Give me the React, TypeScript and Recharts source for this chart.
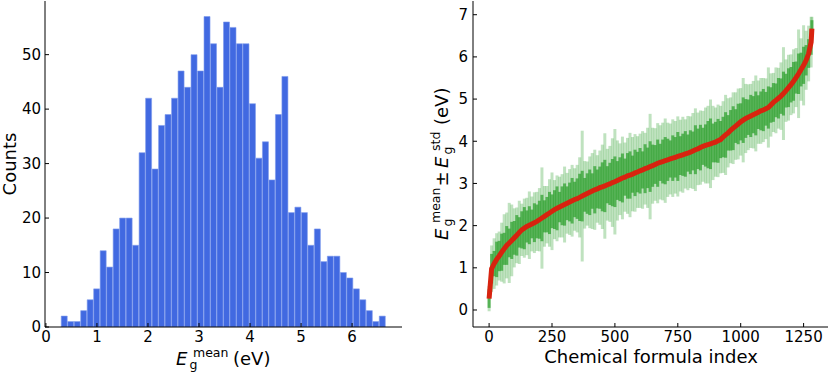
import React from 'react';
import { ComposedChart, Bar, Line, ErrorBar, XAxis, YAxis } from 'recharts';

// ---------- Left panel: histogram of E_g^mean ----------
const BIN_START = 0.3;
const BIN_WIDTH = 0.1272;
const COUNTS = [
  2, 1, 1, 3, 5, 7, 14, 11, 18, 20,
  20, 15, 32, 42, 29, 37, 39, 42, 47, 44,
  50, 47, 57, 52, 44, 56, 55, 52, 52, 41,
  31, 34, 27, 39, 46, 21, 22, 21, 15, 18,
  12, 13, 13, 10, 9, 7, 5, 3, 1, 2,
];
const LEFT_X_TICKS = [0, 1, 2, 3, 4, 5, 6];
const LEFT_Y_TICKS = [0, 10, 20, 30, 40, 50];

// ---------- Right panel: sorted mean +/- std ----------
const INDEX_STEP = 10;
const LAST_INDEX = 1283;
const MEAN = [
  0.27, 0.98, 1.10, 1.20, 1.28, 1.37, 1.45, 1.53, 1.59, 1.65,
  1.71, 1.77, 1.84, 1.90, 1.94, 1.98, 2.01, 2.04, 2.07, 2.10,
  2.14, 2.18, 2.22, 2.26, 2.30, 2.34, 2.38, 2.41, 2.44, 2.47,
  2.50, 2.53, 2.56, 2.59, 2.62, 2.64, 2.67, 2.70, 2.73, 2.76,
  2.79, 2.82, 2.85, 2.87, 2.90, 2.92, 2.94, 2.97, 2.99, 3.02,
  3.04, 3.07, 3.10, 3.13, 3.15, 3.18, 3.20, 3.22, 3.25, 3.27,
  3.30, 3.32, 3.35, 3.37, 3.40, 3.42, 3.45, 3.48, 3.50, 3.52,
  3.54, 3.56, 3.58, 3.60, 3.62, 3.64, 3.66, 3.68, 3.70, 3.72,
  3.74, 3.77, 3.80, 3.82, 3.85, 3.88, 3.90, 3.92, 3.94, 3.96,
  3.98, 4.01, 4.04, 4.10, 4.15, 4.20, 4.26, 4.31, 4.36, 4.41,
  4.46, 4.50, 4.54, 4.57, 4.60, 4.63, 4.66, 4.69, 4.72, 4.74,
  4.77, 4.80, 4.86, 4.92, 4.97, 5.02, 5.07, 5.13, 5.20, 5.27,
  5.34, 5.42, 5.51, 5.60, 5.70, 5.80, 5.92, 6.08, 6.35,
  6.67,
];
const CORE_STD = [
  0.22, 0.35, 0.30, 0.42, 0.36, 0.44, 0.38, 0.46, 0.34, 0.44,
  0.40, 0.48, 0.36, 0.44, 0.50, 0.38, 0.45, 0.34, 0.46, 0.40,
  0.45, 0.55, 0.38, 0.42, 0.50, 0.40, 0.46, 0.52, 0.36, 0.46,
  0.50, 0.40, 0.46, 0.54, 0.42, 0.48, 0.56, 0.60, 0.40, 0.48,
  0.54, 0.42, 0.56, 0.46, 0.50, 0.58, 0.62, 0.44, 0.50, 0.56,
  0.60, 0.46, 0.52, 0.58, 0.44, 0.54, 0.56, 0.44, 0.55, 0.48,
  0.54, 0.44, 0.58, 0.48, 0.60, 0.50, 0.46, 0.56, 0.44, 0.52,
  0.56, 0.50, 0.44, 0.54, 0.48, 0.58, 0.46, 0.50, 0.54, 0.44,
  0.52, 0.46, 0.58, 0.48, 0.54, 0.44, 0.50, 0.56, 0.60, 0.46,
  0.48, 0.52, 0.44, 0.48, 0.54, 0.42, 0.48, 0.52, 0.40, 0.48,
  0.44, 0.54, 0.46, 0.42, 0.50, 0.44, 0.52, 0.40, 0.46, 0.50,
  0.40, 0.50, 0.42, 0.46, 0.40, 0.48, 0.42, 0.52, 0.40, 0.46,
  0.42, 0.46, 0.38, 0.48, 0.40, 0.44, 0.36, 0.34, 0.30,
  0.20,
];
const OUTER_STD = [
  0.30, 0.55, 0.60, 0.62, 0.58, 0.70, 0.82, 0.78, 0.95, 0.85,
  0.70, 0.66, 0.75, 0.62, 0.70, 0.68, 0.80, 0.65, 0.72, 0.70,
  0.75, 1.20, 0.72, 0.68, 0.80, 0.92, 0.70, 0.78, 0.72, 0.75,
  0.90, 0.72, 0.78, 0.85, 0.74, 0.80, 0.95, 1.55, 0.80, 0.76,
  0.85, 0.90, 0.95, 0.80, 0.88, 1.00, 1.25, 0.85, 0.90, 1.05,
  1.25, 0.95, 0.85, 0.98, 0.82, 0.90, 1.00, 0.88, 0.92, 0.85,
  0.88, 0.92, 0.85, 0.95, 1.25, 0.90, 0.86, 0.95, 0.88, 0.92,
  1.00, 0.88, 0.84, 0.92, 0.86, 0.95, 0.85, 0.90, 0.82, 0.88,
  0.85, 0.90, 0.98, 0.86, 0.88, 0.84, 0.90, 0.92, 1.05, 0.88,
  0.82, 0.86, 0.80, 0.85, 0.95, 0.82, 0.78, 0.85, 0.80, 0.84,
  0.80, 1.00, 0.82, 0.78, 0.76, 0.80, 0.90, 0.75, 0.78, 0.76,
  0.72, 0.95, 0.75, 0.70, 0.78, 0.72, 0.80, 1.10, 0.74, 0.78,
  0.72, 0.76, 0.70, 1.05, 0.74, 0.95, 0.70, 0.66, 0.60,
  0.28,
];
const RIGHT_X_TICKS = [0, 250, 500, 750, 1000, 1250];
const RIGHT_Y_TICKS = [0, 1, 2, 3, 4, 5, 6, 7];

const histData = COUNTS.map((c, i) => ({ x: BIN_START + BIN_WIDTH * (i + 0.5), count: c }));
const idxData = MEAN.map((m, i) => ({
  idx: i === MEAN.length - 1 ? LAST_INDEX : i * INDEX_STEP,
  mean: m,
  core: CORE_STD[i],
  outer: OUTER_STD[i],
}));

const FONT = "'DejaVu Sans', sans-serif";
const tickStyle = { fontSize: 15, fill: '#000', fontFamily: FONT };
const axisLine = { stroke: '#000', strokeWidth: 1 };
const tickLine = { stroke: '#000', strokeWidth: 1 };

const LeftXLabel = () => {
  const cx = 223.5;
  return (
    <text fontFamily={FONT} fontSize={18} fill="#000">
      <tspan x={cx - 47.5} y={365} fontStyle="italic">E</tspan>
      <tspan x={cx - 34} y={368.5} fontSize={12.5}>g</tspan>
      <tspan x={cx - 30.5} y={357} fontSize={12.5}>mean</tspan>
      <tspan x={cx + 9.5} y={365}>(eV)</tspan>
    </text>
  );
};

const LeftYLabel = () => (
  <text
    x={16}
    y={164}
    transform="rotate(-90, 16, 164)"
    textAnchor="middle"
    fontFamily={FONT}
    fontSize={18}
    fill="#000"
  >
    Counts
  </text>
);

const RightXLabel = () => (
  <text x={236} y={363} textAnchor="middle" fontFamily={FONT} fontSize={18} fill="#000">
    Chemical formula index
  </text>
);

const RightYLabel = () => {
  const px = 33;
  const py = 164;
  return (
    <text transform={`rotate(-90, ${px}, ${py})`} fontFamily={FONT} fontSize={18} fill="#000">
      <tspan x={px - 76} y={py} fontStyle="italic">E</tspan>
      <tspan x={px - 62.5} y={py + 3.5} fontSize={12.5}>g</tspan>
      <tspan x={px - 59} y={py - 8} fontSize={12.5}>mean</tspan>
      <tspan x={px - 22.5} y={py}>±</tspan>
      <tspan x={px - 4} y={py} fontStyle="italic">E</tspan>
      <tspan x={px + 9.5} y={py + 3.5} fontSize={12.5}>g</tspan>
      <tspan x={px + 13} y={py - 8} fontSize={12.5}>std</tspan>
      <tspan x={px + 39} y={py}>(eV)</tspan>
    </text>
  );
};

export default function App() {
  return (
    <div style={{ position: 'absolute', left: 0, top: 0, width: 830, height: 373, background: '#fff' }}>
      <div style={{ position: 'absolute', left: 0, top: 0 }}>
        <ComposedChart
          width={415}
          height={373}
          data={histData}
          margin={{ top: 1, right: 13, bottom: 16, left: 0 }}
          barCategoryGap={0}
          barGap={0}
        >
          <XAxis
            xAxisId="b"
            type="number"
            dataKey="x"
            domain={[-0.018, 6.978]}
            allowDataOverflow
            ticks={LEFT_X_TICKS}
            height={30}
            tickSize={-4}
            tickMargin={8}
            tick={tickStyle}
            axisLine={axisLine}
            tickLine={tickLine}
            label={{ content: LeftXLabel }}
          />
          <XAxis
            xAxisId="t"
            orientation="top"
            type="number"
            dataKey="x"
            domain={[-0.018, 6.978]}
            allowDataOverflow
            ticks={LEFT_X_TICKS}
            height={0}
            tickSize={-4}
            tick={false}
            axisLine={axisLine}
            tickLine={tickLine}
          />
          <YAxis
            yAxisId="l"
            type="number"
            domain={[0, 59.85]}
            allowDataOverflow
            ticks={LEFT_Y_TICKS}
            width={45}
            tickSize={-4}
            tickMargin={8}
            tick={tickStyle}
            axisLine={axisLine}
            tickLine={tickLine}
            label={{ content: LeftYLabel }}
          />
          <YAxis
            yAxisId="r"
            orientation="right"
            type="number"
            domain={[0, 59.85]}
            allowDataOverflow
            ticks={LEFT_Y_TICKS}
            width={0}
            tickSize={-4}
            tick={false}
            axisLine={axisLine}
            tickLine={tickLine}
          />
          <Bar
            xAxisId="b"
            yAxisId="l"
            dataKey="count"
            fill="#4169e1"
            stroke="#7e9aec"
            strokeWidth={0.6}
            isAnimationActive={false}
          />
        </ComposedChart>
      </div>
      <div style={{ position: 'absolute', left: 415, top: 0 }}>
        <ComposedChart
          width={415}
          height={373}
          data={idxData}
          margin={{ top: 1, right: 2, bottom: 16, left: 0 }}
        >
          <XAxis
            xAxisId="b"
            type="number"
            dataKey="idx"
            domain={[-64, 1347]}
            allowDataOverflow
            ticks={RIGHT_X_TICKS}
            height={30}
            tickSize={-4}
            tickMargin={8}
            tick={tickStyle}
            axisLine={axisLine}
            tickLine={tickLine}
            label={{ content: RightXLabel }}
          />
          <XAxis
            xAxisId="t"
            orientation="top"
            type="number"
            dataKey="idx"
            domain={[-64, 1347]}
            allowDataOverflow
            ticks={RIGHT_X_TICKS}
            height={0}
            tickSize={-4}
            tick={false}
            axisLine={axisLine}
            tickLine={tickLine}
          />
          <YAxis
            yAxisId="l"
            type="number"
            domain={[-0.403, 7.325]}
            allowDataOverflow
            ticks={RIGHT_Y_TICKS}
            width={58}
            tickSize={-4}
            tickMargin={9}
            tick={tickStyle}
            axisLine={axisLine}
            tickLine={tickLine}
            label={{ content: RightYLabel }}
          />
          <YAxis
            yAxisId="r"
            orientation="right"
            type="number"
            domain={[-0.403, 7.325]}
            allowDataOverflow
            ticks={RIGHT_Y_TICKS}
            width={0}
            tickSize={-4}
            tick={false}
            axisLine={axisLine}
            tickLine={tickLine}
          />
          <Line
            xAxisId="b"
            yAxisId="l"
            dataKey="mean"
            stroke="none"
            dot={false}
            activeDot={false}
            isAnimationActive={false}
          >
            <ErrorBar dataKey="outer" direction="y" width={0} stroke="rgba(44,160,44,0.3)" strokeWidth={3} isAnimationActive={false} />
          </Line>
          <Line
            xAxisId="b"
            yAxisId="l"
            dataKey="mean"
            stroke="none"
            dot={false}
            activeDot={false}
            isAnimationActive={false}
          >
            <ErrorBar dataKey="core" direction="y" width={0} stroke="rgba(44,160,44,0.72)" strokeWidth={3} isAnimationActive={false} />
          </Line>
          <Line
            xAxisId="b"
            yAxisId="l"
            dataKey="mean"
            stroke="#d8230f"
            strokeWidth={5}
            dot={false}
            activeDot={false}
            isAnimationActive={false}
          />
        </ComposedChart>
      </div>
    </div>
  );
}
